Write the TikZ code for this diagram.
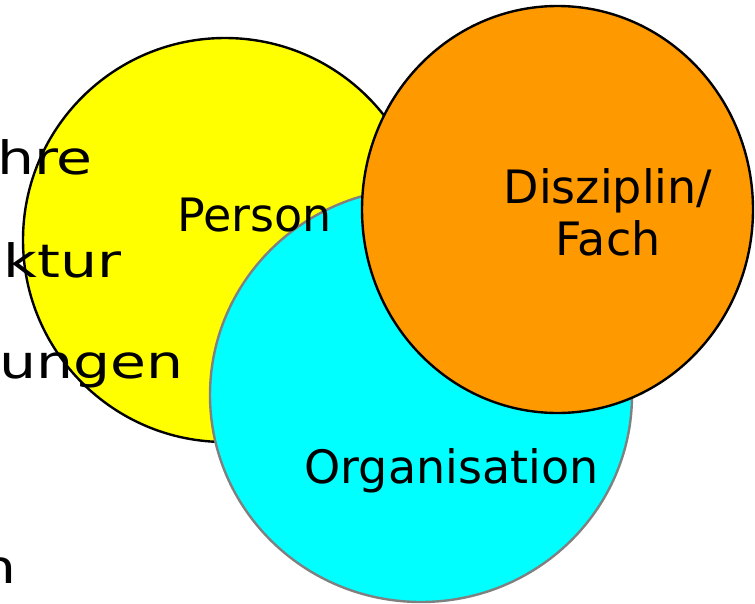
\documentclass[tikz,border=0pt]{standalone}
\usepackage{fontspec}
\setmainfont{DejaVu Sans}
\usetikzlibrary{positioning}
\definecolor{persongelb}{HTML}{FFFF00}
\definecolor{orgcyan}{HTML}{00FFFF}
\definecolor{fachorange}{HTML}{FF9900}

\begin{document}
\begin{tikzpicture}[x=1pt, y=-1pt,
		txt/.style={inner sep=0pt, font=\fontsize{46}{52}\selectfont},
		breit/.style={txt, anchor = base east, xscale=1.27},
		kreis/.style={draw=black, line width=2.4pt}]
		\useasboundingbox (0, 0) rectangle (755, 603);

		\draw [kreis, fill = persongelb] (225, 240) circle [radius = 202];

		% cut-off bullet text on the left
		\node (hre) [breit] at (93, 174) {hre};
		\node (ktur) [breit] at (122, 277) {ktur};
		\node (ungen) [breit] at (184, 378) {ungen};
		\node (n) [breit] at (17, 583) {n};

		\draw [kreis, draw = black!50, fill = orgcyan] (421, 395) ellipse [x radius = 211, y radius = 207];
		\draw [kreis, fill = fachorange] (557.5, 209.5) ellipse [x radius = 195.5, y radius = 203.5];

		\node (person) [txt, anchor = base] at (254.5, 231) {Person};
		\node (org) [txt, anchor = base] at (451.5, 483) {Organisation};
		\node (fach) [txt, anchor = base, align = center] at (608, 255) {Disziplin/\\Fach};
	\end{tikzpicture}
\end{document}
